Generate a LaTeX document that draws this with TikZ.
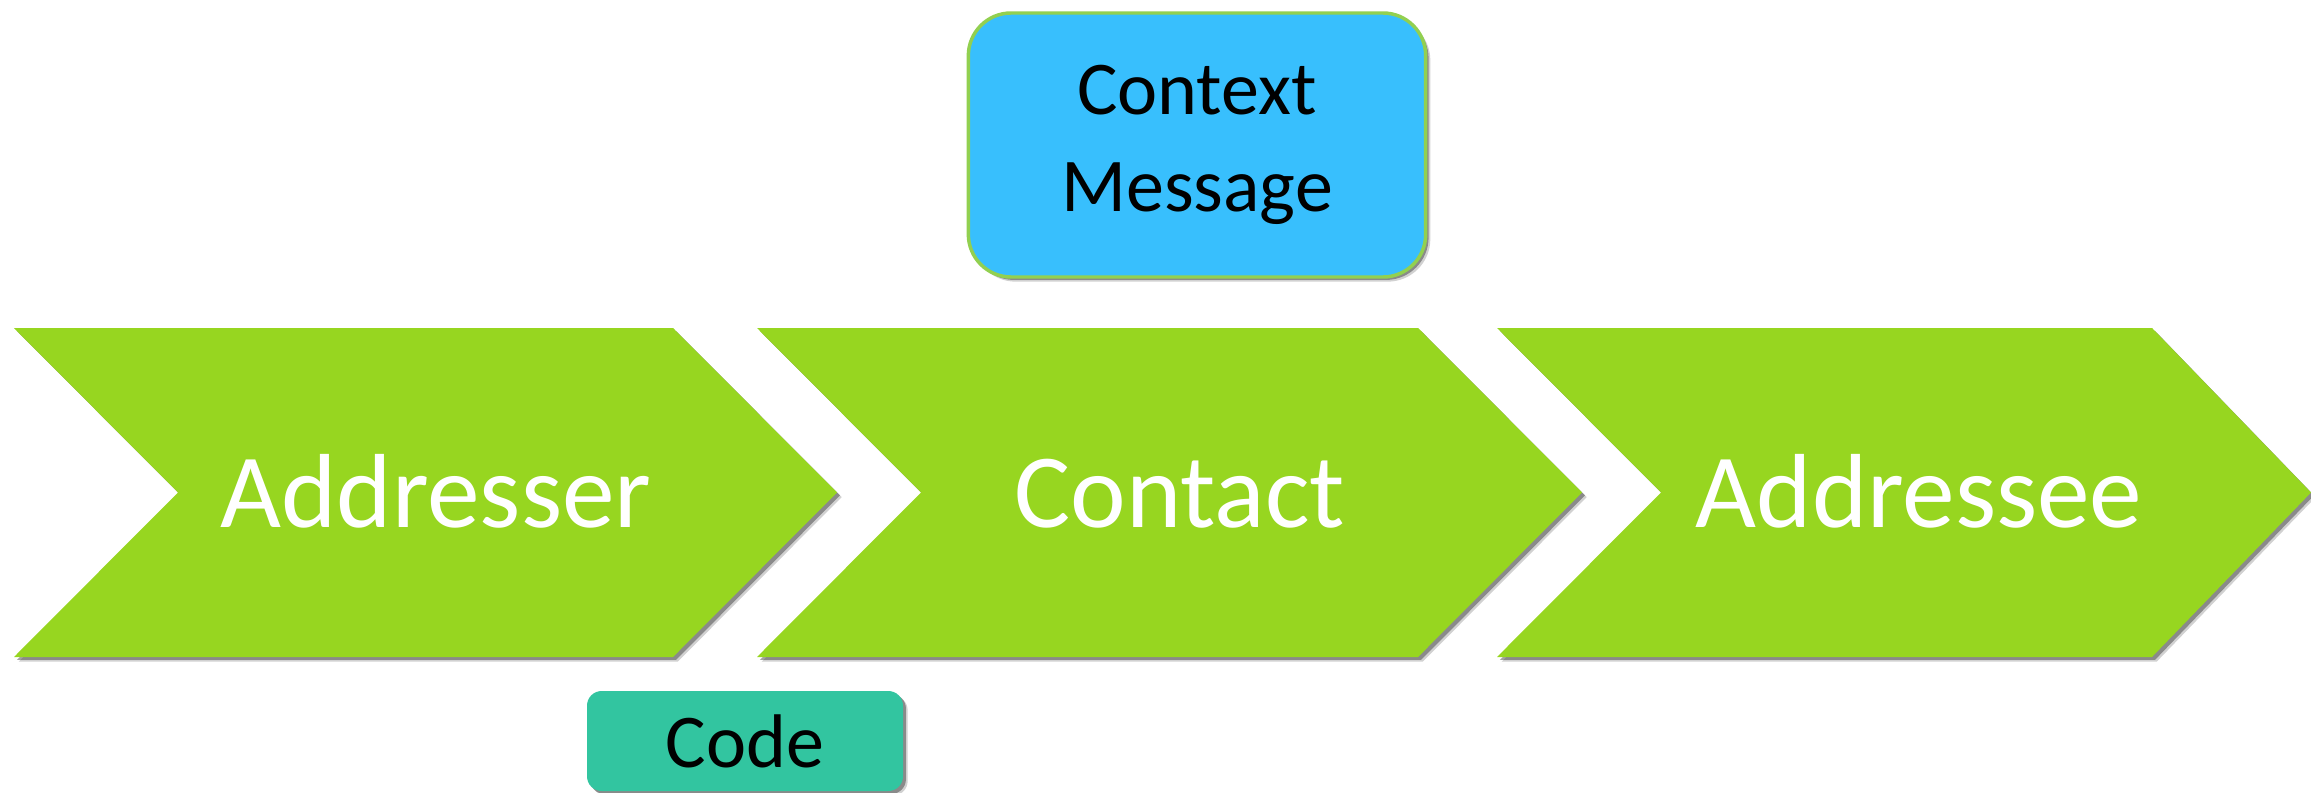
\documentclass[tikz,border=0pt]{standalone}
\usepackage{fontspec}
\setmainfont{Carlito}
\usepackage{xcolor}
\usetikzlibrary{shadows}

\definecolor{chevgreen}{RGB}{151,214,32}
\definecolor{ctxblue}{RGB}{56,191,253}
\definecolor{ctxborder}{RGB}{146,208,80}
\definecolor{codeteal}{RGB}{50,197,160}

\tikzset{
  softshadow/.style={drop shadow={shadow xshift=3.5pt, shadow yshift=-3.5pt, opacity=0.18, fill=black},
    drop shadow={shadow xshift=2.2pt, shadow yshift=-2.2pt, opacity=0.45, fill=black!80}},
  chevron/.style={fill=chevgreen, softshadow},
  chevlabel/.style={anchor=base, inner sep=0.75pt, text=white, font=\fontsize{79}{94}\selectfont},
  infobox/.style={rounded corners=32pt, align=center, inner sep=0pt, font=\fontsize{57}{72.75}\selectfont, softshadow}
}

\begin{document}
\begin{tikzpicture}[x=0.75pt,y=0.75pt,yscale=-1,xscale=1]
\useasboundingbox (0,0) rectangle (2311,792);

%Shape: Chevron
\draw [chevron, draw=none] (14,328) -- (673,328) -- (837,492.5) -- (673,657) -- (14,657) -- (178,492.5) -- cycle ;
%Shape: Chevron
\draw [chevron, draw=none] (757,328) -- (1418,328) -- (1582,492.5) -- (1418,657) -- (757,657) -- (921,492.5) -- cycle ;
%Shape: Chevron
\draw [chevron, draw=none] (1497,328) -- (2152,328) -- (2311,492.5) -- (2152,657) -- (1497,657) -- (1661,492.5) -- cycle ;

%Rounded Rect
\node (context) [infobox, fill=ctxblue, draw=ctxborder, line width=2.6pt, minimum width=343pt, minimum height=198pt] at (1197,145) {Context\\Message};
%Rounded Rect
\node (code) [infobox, fill=codeteal, rounded corners=11pt, minimum width=237pt, minimum height=75pt] at (745,741) {Code};

% Text Node
\node (addresser) [chevlabel] at (436,527) {Addresser};
% Text Node
\node (contact) [chevlabel] at (1180,527) {Contact};
% Text Node
\node (addressee) [chevlabel] at (1919,527) {Addressee};

\end{tikzpicture}
\end{document}
